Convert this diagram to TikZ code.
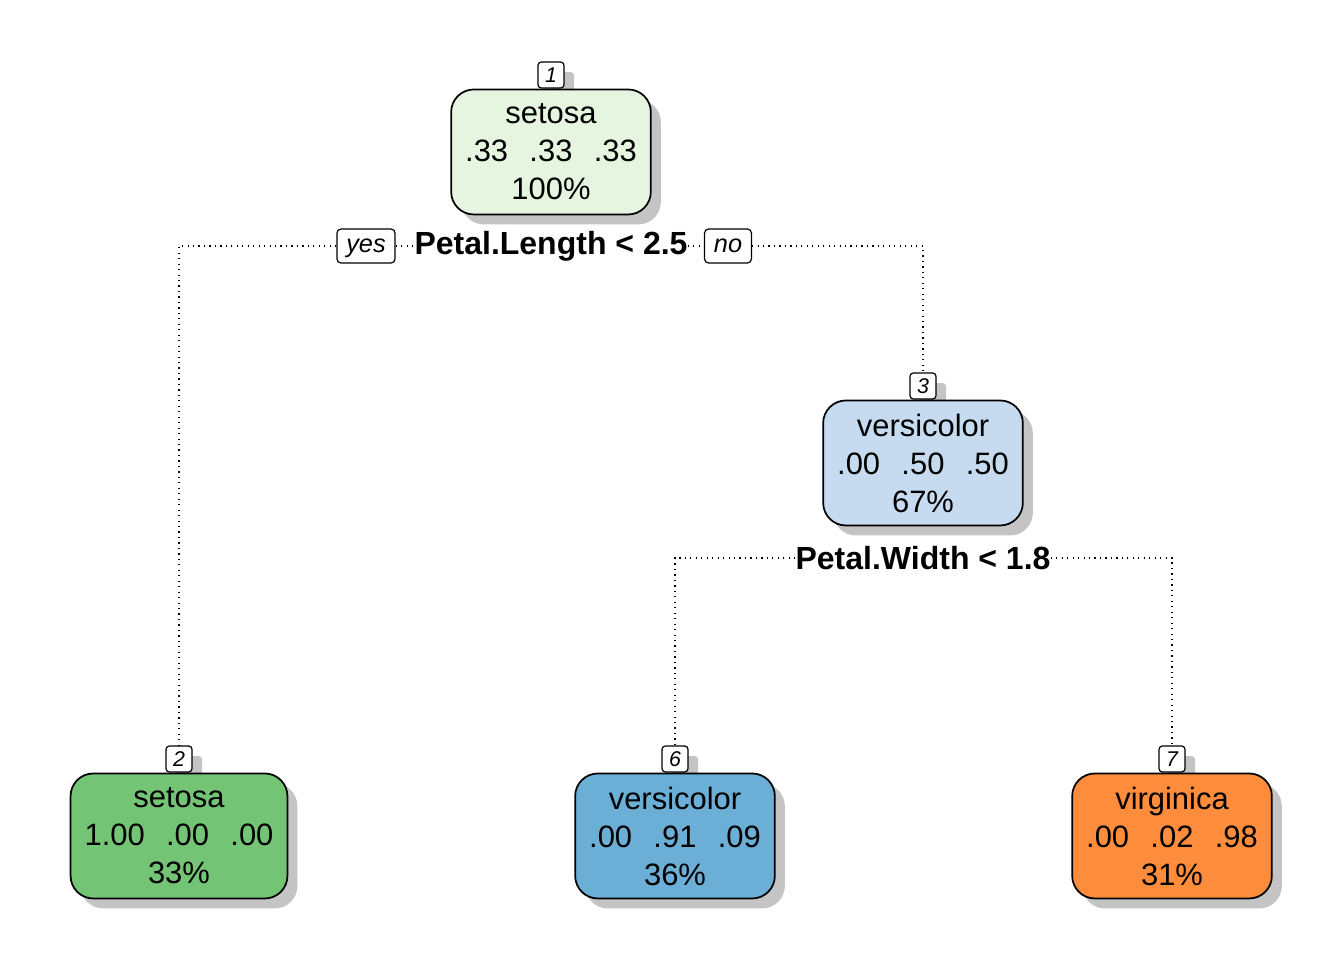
\documentclass[tikz,border=0pt]{standalone}
\usepackage{fontspec}
\setmainfont{Liberation Sans}
\usetikzlibrary{shadows,positioning}
\definecolor{setosaL}{RGB}{229,245,224}
\definecolor{setosaD}{RGB}{116,196,118}
\definecolor{versiL}{RGB}{198,219,239}
\definecolor{versiD}{RGB}{107,174,214}
\definecolor{virgD}{RGB}{253,141,60}

\begin{document}
\begin{tikzpicture}[x=.75pt,y=-.75pt,
  shad/.style={drop shadow={shadow xshift=7.5pt,shadow yshift=-7.5pt,fill=black!23,opacity=1}},
  leaf/.style={draw,line width=1.3pt,rounded corners=17pt,minimum width=147.75pt,minimum height=93.75pt,inner xsep=10.5pt,align=center,font=\fontsize{23.2}{28.5}\selectfont,shad},
  num/.style={draw,line width=.9pt,fill=white,rounded corners=2.5pt,minimum size=19.5pt,inner sep=0pt,font=\itshape\fontsize{16}{16}\selectfont,shad},
  ans/.style={draw,line width=.9pt,fill=white,rounded corners=3pt,minimum height=25.5pt,inner xsep=7pt,text height=12pt,text depth=2pt,font=\itshape\fontsize{19}{20}\selectfont},
  split/.style={inner sep=0pt,font=\bfseries\fontsize{24}{28}\selectfont},
  edge/.style={line width=.9pt,dash pattern=on .9pt off 3.2pt}]
\def\colgap{\hspace{16pt}}
\useasboundingbox (0,0) rectangle (1344,960);

\node[num] (lbl1) at (551,75) {1};
\node[num] (lbl2) at (179,759) {2};
\node[num] (lbl3) at (923,386) {3};
\node[num] (lbl6) at (675,759) {6};
\node[num] (lbl7) at (1172,759) {7};

\node[leaf,fill=setosaL,below=0pt of lbl1] (n1) {setosa\\.33\colgap.33\colgap.33\\100\%};
\node[leaf,fill=setosaD,below=0pt of lbl2] (n2) {setosa\\1.00\colgap.00\colgap.00\\33\%};
\node[leaf,fill=versiL,below=0pt of lbl3] (n3) {versicolor\\.00\colgap.50\colgap.50\\67\%};
\node[leaf,fill=versiD,below=0pt of lbl6] (n6) {versicolor\\.00\colgap.91\colgap.09\\36\%};
\node[leaf,fill=virgD,below=0pt of lbl7] (n7) {virginica\\.00\colgap.02\colgap.98\\31\%};

\node[split] (s1) at (551,246) {Petal.Length < 2.5};
\node[ans] (yes) at (366,246) {yes};
\node[ans] (no) at (728,246) {no};
\node[split] (s3) at (923,558) {Petal.Width < 1.8};

\draw[edge] (yes.west) -| (lbl2.north);
\draw[edge] (yes.east) -- (s1.west);
\draw[edge] (s1.east) -- (no.west);
\draw[edge] (no.east) -| (lbl3.north);
\draw[edge] (s3.west) -| (lbl6.north);
\draw[edge] (s3.east) -| (lbl7.north);
\end{tikzpicture}
\end{document}
